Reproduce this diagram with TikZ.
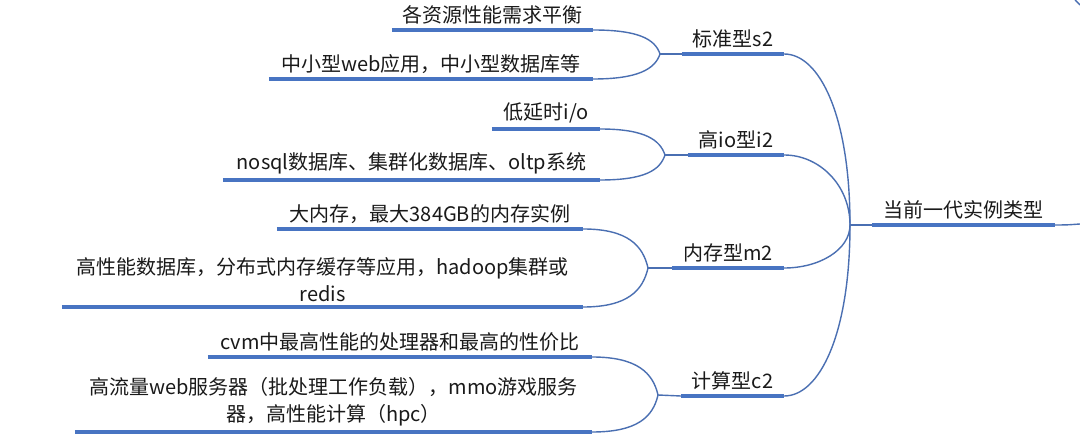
\documentclass[tikz,border=0pt]{standalone}
\usepackage{fontspec}
\newfontfamily\cjkf{Noto Sans CJK SC}
\definecolor{ulc}{HTML}{4874C2}
\definecolor{cnc}{HTML}{4A6FB2}
\definecolor{txc}{HTML}{1A1A1A}
\begin{document}
\begin{tikzpicture}[x=1pt,y=-1pt,
  txt/.style={font=\cjkf\fontsize{20}{27}\selectfont, text=txc, align=center,
              inner xsep=0pt, inner ysep=5.5pt, anchor=south},
  ul/.style={draw=ulc, line width=4pt},
  conn/.style={draw=cnc, line width=1.4pt}]
\useasboundingbox[fill=white] (0,0) rectangle (1080,443);

% root
\node[txt, minimum width=183pt] (root) at (963.5,225) {当前一代实例类型};
\coordinate (hub) at (850,225);
\coordinate (out) at (1080,224);
\coordinate (tr1) at (1075,0);
\coordinate (tr2) at (1080,5);

% categories
\node[txt, minimum width=102pt] (s2) at (733,54) {标准型s2};
\node[txt, minimum width=96pt]  (i2) at (736,155) {高io型i2};
\node[txt, minimum width=112pt] (m2) at (728,268) {内存型m2};
\node[txt, minimum width=103pt] (c2) at (732.5,396) {计算型c2};

\coordinate (js) at (660,54);
\coordinate (ji) at (665,155);
\coordinate (jm) at (648,268);
\coordinate (jc) at (658,395);

% leaves
\node[txt, minimum width=201pt] (a1) at (492.5,30) {各资源性能需求平衡};
\node[txt, minimum width=324pt] (a2) at (431,79) {中小型web应用，中小型数据库等};
\node[txt, minimum width=108pt] (b1) at (546,129) {低延时i/o};
\node[txt, minimum width=377pt] (b2) at (411.5,180) {nosql数据库、集群化数据库、oltp系统};
\node[txt, minimum width=306pt] (c1) at (430,229) {大内存，最大384GB的内存实例};
\node[txt, minimum width=521pt] (c2l) at (322.5,307) {高性能数据库，分布式内存缓存等应用，hadoop集群或\\redis};
\node[txt, minimum width=384pt] (d1) at (400,357) {cvm中最高性能的处理器和最高的性价比};
\node[txt, minimum width=517pt] (d2) at (333.5,432) {高流量web服务器（批处理工作负载），mmo游戏服务\\器，高性能计算（hpc）};

% underlines
\foreach \n in {root,s2,i2,m2,c2,a1,a2,b1,b2,c1,c2l,d1,d2}
  \draw[ul] (\n.south west) -- (\n.south east);

% hub connectors
\draw[conn] (hub) -- (root.south west);
\draw[conn] (s2.south east) .. controls +(35,0) and +(0,-110) .. (hub);
\draw[conn] (i2.south east) .. controls +(35,0) and +(0,-40) .. (hub);
\draw[conn] (m2.south east) .. controls +(35,0) and +(0,25) .. (hub);
\draw[conn] (c2.south east) .. controls +(35,0) and +(0,110) .. (hub);
\draw[conn] (root.south east) .. controls +(15,0) and +(-8,0.5) .. (out);
\draw[conn] (tr1) .. controls +(2,3) .. (tr2);

% category connectors
\draw[conn] (js) -- (s2.south west);
\draw[conn] (ji) -- (i2.south west);
\draw[conn] (jm) -- (m2.south west);
\draw[conn] (jc) -- (c2.south west);

% leaf connectors
\draw[conn] (a1.south east) .. controls +(45,0) and +(-5,-15) .. (js);
\draw[conn] (a2.south east) .. controls +(45,0) and +(-5,15) .. (js);
\draw[conn] (b1.south east) .. controls +(45,0) and +(-5,-15) .. (ji);
\draw[conn] (b2.south east) .. controls +(45,0) and +(-5,15) .. (ji);
\draw[conn] (c1.south east) .. controls +(45,0) and +(-5,-22) .. (jm);
\draw[conn] (c2l.south east) .. controls +(45,0) and +(-5,22) .. (jm);
\draw[conn] (d1.south east) .. controls +(45,0) and +(-5,-22) .. (jc);
\draw[conn] (d2.south east) .. controls +(45,0) and +(-5,22) .. (jc);
\end{tikzpicture}
\end{document}
